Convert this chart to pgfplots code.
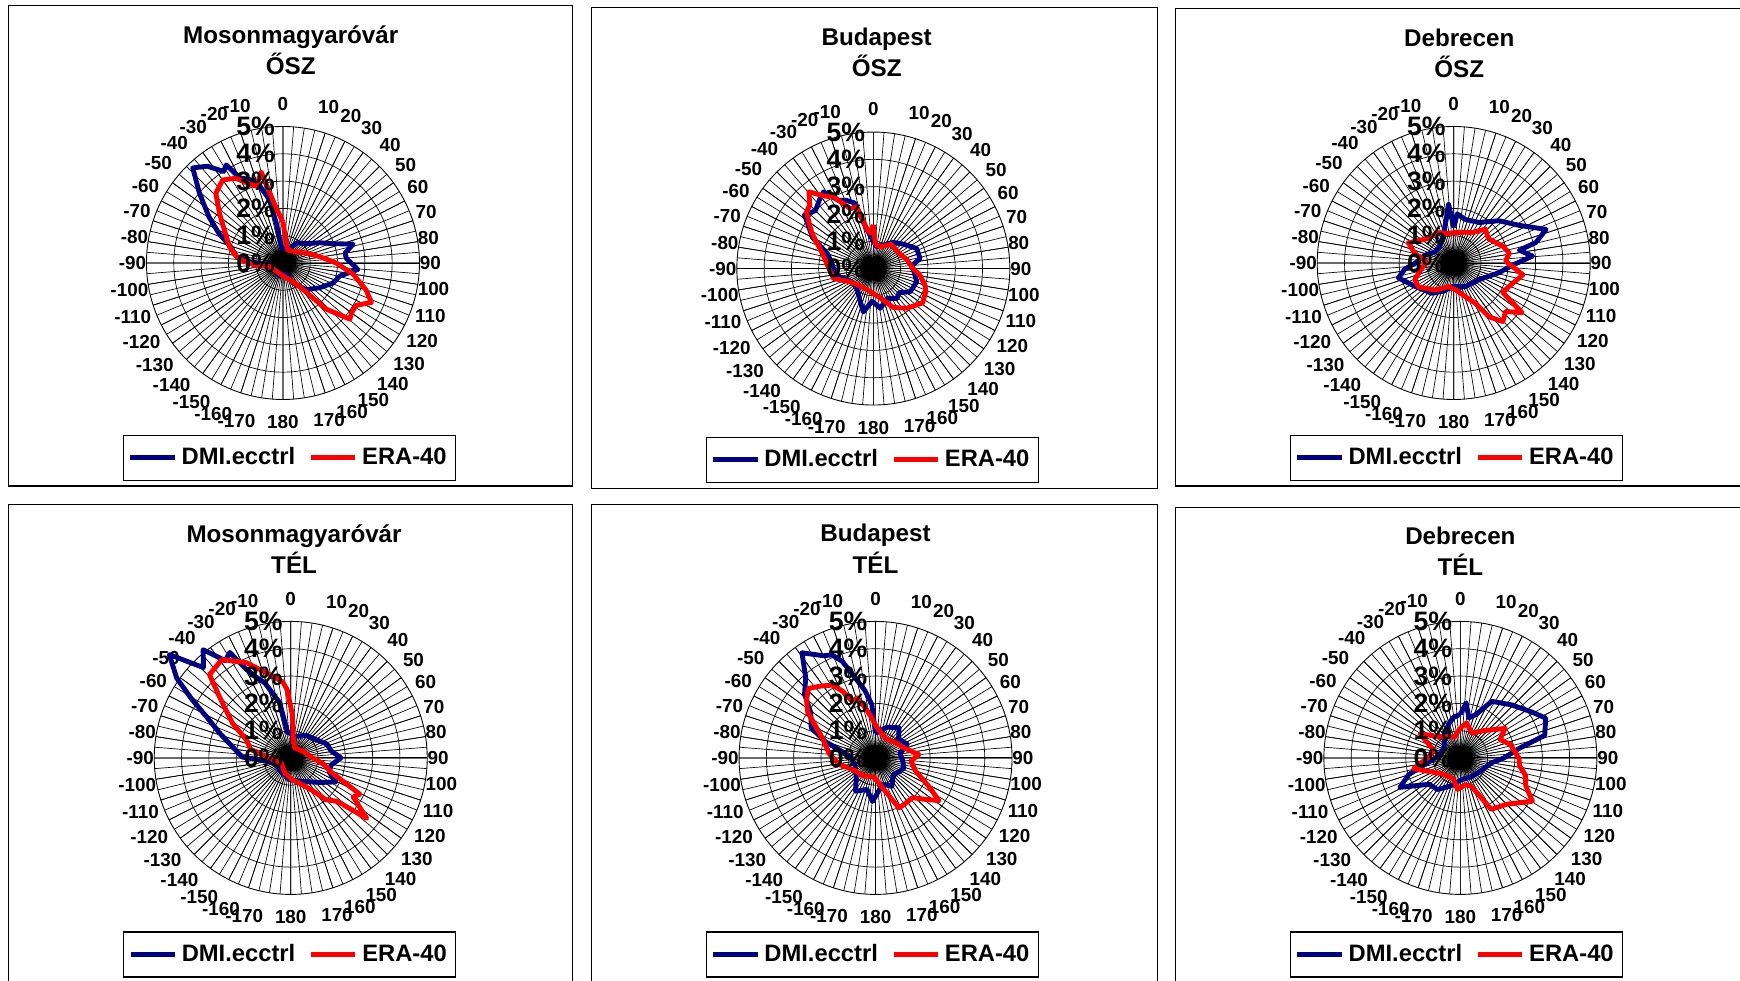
\documentclass[border=0pt]{standalone}
\usepackage{fontspec}
\setmainfont{Liberation Sans}
\usepackage{pgfplots}
\pgfplotsset{compat=1.18}
\usepgfplotslibrary{polar}
\definecolor{dmiblue}{RGB}{0,0,128}
\definecolor{erared}{RGB}{255,0,0}
\pgfplotsset{
 radar/.style={
  width=123pt, height=123pt, scale only axis,
  xmin=0, xmax=360, ymin=0, ymax=5,
  xtick={0,9,18,27,36,45,54,63,72,90,108,117,126,135,144,153,162,171,180,189,198,207,216,225,234,243,252,270,288,297,306,315,324,333,342,351},
  xticklabels={90,80,70,60,50,40,30,20,10,0,-10,-20,-30,-40,-50,-60,-70,-80,-90,-100,-110,-120,-130,-140,-150,-160,-170,180,170,160,150,140,130,120,110,100},
  minor xtick={0,4.5,...,355.5},
  xmajorgrids, xminorgrids, ymajorgrids,
  ytick={1,2,3,4}, yticklabels={},
  major grid style={black, line width=0.3pt},
  minor grid style={black, line width=0.3pt},
  axis line style={black, line width=0.4pt},
  tick style={draw=none},
  xticklabel style={font=\bfseries\fontsize{8.5}{8.5}\selectfont, inner sep=2.5pt,
     xshift={-2.5pt*cos(\tick)}, yshift={4.5pt*sin(\tick)}},
  clip=false,
  legend columns=2,
  legend style={anchor=center, draw=black, line width=0.5pt,
    font=\bfseries\fontsize{10.7}{12}\selectfont,
    inner xsep=2pt, inner ysep=3.5pt,
    /tikz/every even column/.append style={column sep=4pt}},
  legend image code/.code={\draw[##1] (0pt,0pt) -- (20pt,0pt);},
 },
 dmi/.style={color=dmiblue, line width=2.2pt, mark=none, line join=round, x filter/.expression={90-x}},
 era/.style={color=erared, line width=2.2pt, mark=none, line join=round, x filter/.expression={90-x}},
}
\newcommand{\pctlabels}{%
 \pgfplotsinvokeforeach{0,...,5}{\node[anchor=east, inner sep=0pt, xshift=-3.5pt, font=\bfseries\fontsize{12}{12}\selectfont] at (axis cs:90,##1) {##1\%};}%
}
\begin{document}
\begin{tikzpicture}[x=0.5pt,y=0.5pt]
\useasboundingbox (0,0) rectangle (1568,884);
\clip (0,0) rectangle (1568,884);
\coordinate (c11) at (255,647);
\coordinate (c12) at (787,642);
\coordinate (c13) at (1310,647);
\coordinate (c21) at (262,201);
\coordinate (c22) at (789,201);
\coordinate (c23) at (1316,201);
% frames
\draw[line width=0.5pt] (8,879) rectangle (516,446);
\draw[line width=0.5pt] (533,877) rectangle (1043,444);
\draw[line width=0.5pt] (1059,876) rectangle (1600,446);
\draw[line width=0.5pt] (8,429) rectangle (516,-40);
\draw[line width=0.5pt] (533,429) rectangle (1043,-40);
\draw[line width=0.5pt] (1059,427) rectangle (1600,-40);
% titles
\tikzset{ttl/.style={align=center, font=\bfseries\fontsize{10.9}{14}\selectfont}}
\node[ttl] at (262,839) {Mosonmagyaróvár\\ŐSZ};
\node[ttl] at (790,837) {Budapest\\ŐSZ};
\node[ttl] at (1315,835.5) {Debrecen\\ŐSZ};
\node[ttl] at (265,389.5) {Mosonmagyaróvár\\TÉL};
\node[ttl] at (789,389.5) {Budapest\\TÉL};
\node[ttl] at (1316,387.5) {Debrecen\\TÉL};

% ---------- P11 Mosonmagyarovar OSZ
\begin{polaraxis}[radar, at={(c11)}, anchor=center, legend style={at={(0.524,-0.213)}}]
\addplot[dmi] coordinates {(0,0.5)(10,0.5)(25,0.6)(35,0.9)(50,1.1)(61,1.53)(68,1.9)(75,2.66)(81,2.3)(86,2.33)(92,2.6)(95,2.75)(103,2.13)(112,1.97)(124,1.62)(139,1.3)(153,0.82)(165,0.4)(194,0.5)(220,0.4)(250,0.4)(265,0.6)(272,1.2)(278,1.72)(287,2.0)(295,2.6)(302,3.2)(310,4.0)(316.5,4.8)(322,4.5)(327,4.0)(330,4.15)(333,3.5)(338,3.3)(342,3.15)(348,2.37)(350.5,1.48)(354,0.6)(360,0.5)};
\addplot[era] coordinates {(0,1.5)(8,0.8)(20,0.5)(45,0.6)(67,0.93)(80,1.36)(90,1.95)(99,2.6)(108,3.2)(114,3.55)(120,3.1)(126,3.1)(130,3.2)(137,2.3)(143,1.2)(155,0.7)(175,0.5)(200,0.4)(230,0.4)(255,0.5)(265,1.0)(272,1.4)(278,1.72)(287,2.05)(295,2.29)(308,2.95)(316,3.54)(324,3.76)(331,3.55)(336,3.2)(341,2.97)(346.5,3.43)(351,2.3)(355.5,1.8)(360,1.5)};
\legend{DMI.ecctrl,ERA-40}
\pctlabels
\end{polaraxis}

% ---------- P12 Budapest OSZ
\begin{polaraxis}[radar, at={(c12)}, anchor=center, legend style={at={(0.496,-0.201)}}]
\addplot[dmi] coordinates {(0,1.0)(9,0.8)(20,0.9)(37,1.2)(50,1.4)(65,1.75)(78,1.75)(86,1.4)(95,1.5)(107,1.66)(122,1.6)(133,1.3)(142,1.4)(155,1.2)(170,1.48)(182,1.2)(193,1.63)(203,1.26)(215,1.0)(228,0.9)(245,1.0)(260,1.4)(275,1.5)(287.5,1.75)(297,2.5)(308,3.2)(315,3.0)(322,3.2)(327,3.35)(333,2.8)(338,2.7)(344,2.5)(350,1.5)(355,1.2)(360,1.0)};
\addplot[era] coordinates {(0,1.6)(4.5,0.9)(18,0.83)(36,1.1)(60,1.1)(75,1.27)(90,1.45)(98,1.72)(108,1.99)(113.6,2.1)(125,2.2)(140,1.9)(153,1.6)(167,1.1)(188,0.85)(219,0.8)(240,0.98)(256,1.5)(275,1.7)(285,1.9)(300,2.6)(310,3.2)(315,3.3)(320,3.67)(326,3.2)(331,3.0)(339,2.35)(345,2.34)(350.5,1.48)(355,1.3)(360,1.6)};
\legend{DMI.ecctrl,ERA-40}
\pctlabels
\end{polaraxis}

% ---------- P13 Debrecen OSZ
\begin{polaraxis}[radar, at={(c13)}, anchor=center, legend style={at={(0.51,-0.213)}}]
\addplot[dmi] coordinates {(0,1.3)(4,1.8)(15,1.65)(32,1.75)(47,2.27)(60,2.76)(70,3.6)(76,3.1)(79,2.45)(85,2.9)(92,2.16)(102,1.7)(124,1.1)(153,0.97)(184,0.87)(200,1.1)(216,1.37)(239,1.66)(255,2.1)(263,1.8)(270,1.4)(285,1.1)(300,0.8)(320,0.8)(340,1.1)(350,1.6)(355,2.17)(360,1.3)};
\addplot[era] coordinates {(0,1.11)(20,1.2)(31,1.3)(43,1.7)(55,1.55)(71,1.9)(80,2.07)(88,1.9)(99.7,2.57)(113,2.2)(121,2.1)(126,3.1)(133,2.6)(140,2.8)(146.7,2.36)(151.6,1.68)(161,1.3)(175,1.0)(192,0.88)(214,1.2)(236,1.56)(247,1.55)(260,1.2)(272,1.0)(284,1.47)(294,1.82)(310,1.36)(333,1.24)(350,1.1)(360,1.11)};
\legend{DMI.ecctrl,ERA-40}
\pctlabels
\end{polaraxis}

% ---------- P21 Mosonmagyarovar TEL
\begin{polaraxis}[radar, at={(c21)}, anchor=center, legend style={at={(0.496,-0.22)}}]
\addplot[dmi] coordinates {(0,0.9)(10,0.8)(35,1.0)(50,1.1)(69,1.42)(80,1.5)(90,1.84)(100,1.5)(110,1.5)(118,1.87)(130,1.4)(150,1.0)(184,0.8)(220,0.6)(250,0.6)(265,1.0)(271,1.77)(280.7,2.17)(289.4,2.77)(295,3.3)(300.6,4.2)(305,5.1)(310.4,5.84)(316,4.6)(321,5.1)(326,4.3)(330,4.46)(333,3.7)(336,3.3)(341,2.9)(348.7,2.06)(353,0.93)(360,0.9)};
\addplot[era] coordinates {(8,0.7)(20,0.4)(60,0.5)(90,0.8)(100,1.2)(109,1.54)(117.7,2.86)(122,2.7)(128.5,3.56)(133,2.33)(140,2.0)(146,1.45)(160,1.0)(176,0.8)(200,0.6)(240,0.4)(270,0.8)(282,1.5)(292,1.75)(301,2.5)(310.7,3.45)(315.7,4.26)(325,4.4)(335,3.85)(343,3.3)(349,3.0)(354,2.8)(357,2.5)(362,1.6)(368,0.7)};
\legend{DMI.ecctrl,ERA-40}
\pctlabels
\end{polaraxis}

% ---------- P22 Budapest TEL
\begin{polaraxis}[radar, at={(c22)}, anchor=center, legend style={at={(0.488,-0.22)}}]
\addplot[dmi] coordinates {(0,0.9)(20,1.2)(38,1.4)(50,1.1)(67,1.26)(80,0.9)(95,1.0)(110,1.1)(120,1.0)(135,0.9)(150,1.2)(165,1.0)(184,1.6)(195,1.2)(211,1.42)(225,1.0)(250,0.8)(270,0.9)(280,1.2)(288,1.93)(295,2.6)(305,2.9)(312,3.5)(319,3.9)(325,4.7)(333,4.2)(337,4.1)(341,3.74)(346,3.0)(351,2.5)(356,1.96)(360,0.9)};
\addplot[era] coordinates {(0,1.2)(15,0.9)(30,0.8)(50,0.9)(70,1.1)(85.6,1.59)(95,1.3)(108,1.54)(118,2.2)(124,2.8)(131,2.3)(137,1.99)(148,2.0)(155,2.02)(165,1.2)(185,0.7)(215,0.8)(240,0.9)(260,1.36)(275,1.7)(290.5,2.08)(304,3.0)(310,3.3)(316,3.54)(323,3.3)(329.4,3.1)(334,2.7)(337.6,2.25)(343,2.3)(348.7,1.86)(354,1.5)(360,1.2)};
\legend{DMI.ecctrl,ERA-40}
\pctlabels
\end{polaraxis}

% ---------- P23 Debrecen TEL
\begin{polaraxis}[radar, at={(c23)}, anchor=center, legend style={at={(0.486,-0.22)}}]
\addplot[dmi] coordinates {(0,1.6)(6,2.03)(12,1.5)(20,1.7)(29,2.37)(44,2.7)(57,3.1)(65,3.45)(75,3.2)(81,2.16)(90,1.6)(99,1.15)(120,0.9)(150,0.8)(178,0.8)(200,1.1)(216,1.43)(230,1.5)(244,2.46)(252,2.0)(260,1.3)(275,0.8)(300,0.7)(320,0.9)(340,1.3)(350,1.5)(360,1.6)};
\addplot[era] coordinates {(0,1.1)(10,1.3)(25,1.0)(40,1.3)(56.6,1.97)(65,1.6)(75,1.9)(90,2.14)(98,2.2)(105,2.47)(113,2.6)(121,3.08)(135,2.4)(149,2.2)(159,1.1)(170,1.0)(185,1.16)(200,0.8)(230,0.9)(257,1.76)(270,1.2)(285,1.0)(301,1.72)(315,1.1)(330,0.9)(345,0.8)(360,1.1)};
\legend{DMI.ecctrl,ERA-40}
\pctlabels
\end{polaraxis}
\end{tikzpicture}
\end{document}
